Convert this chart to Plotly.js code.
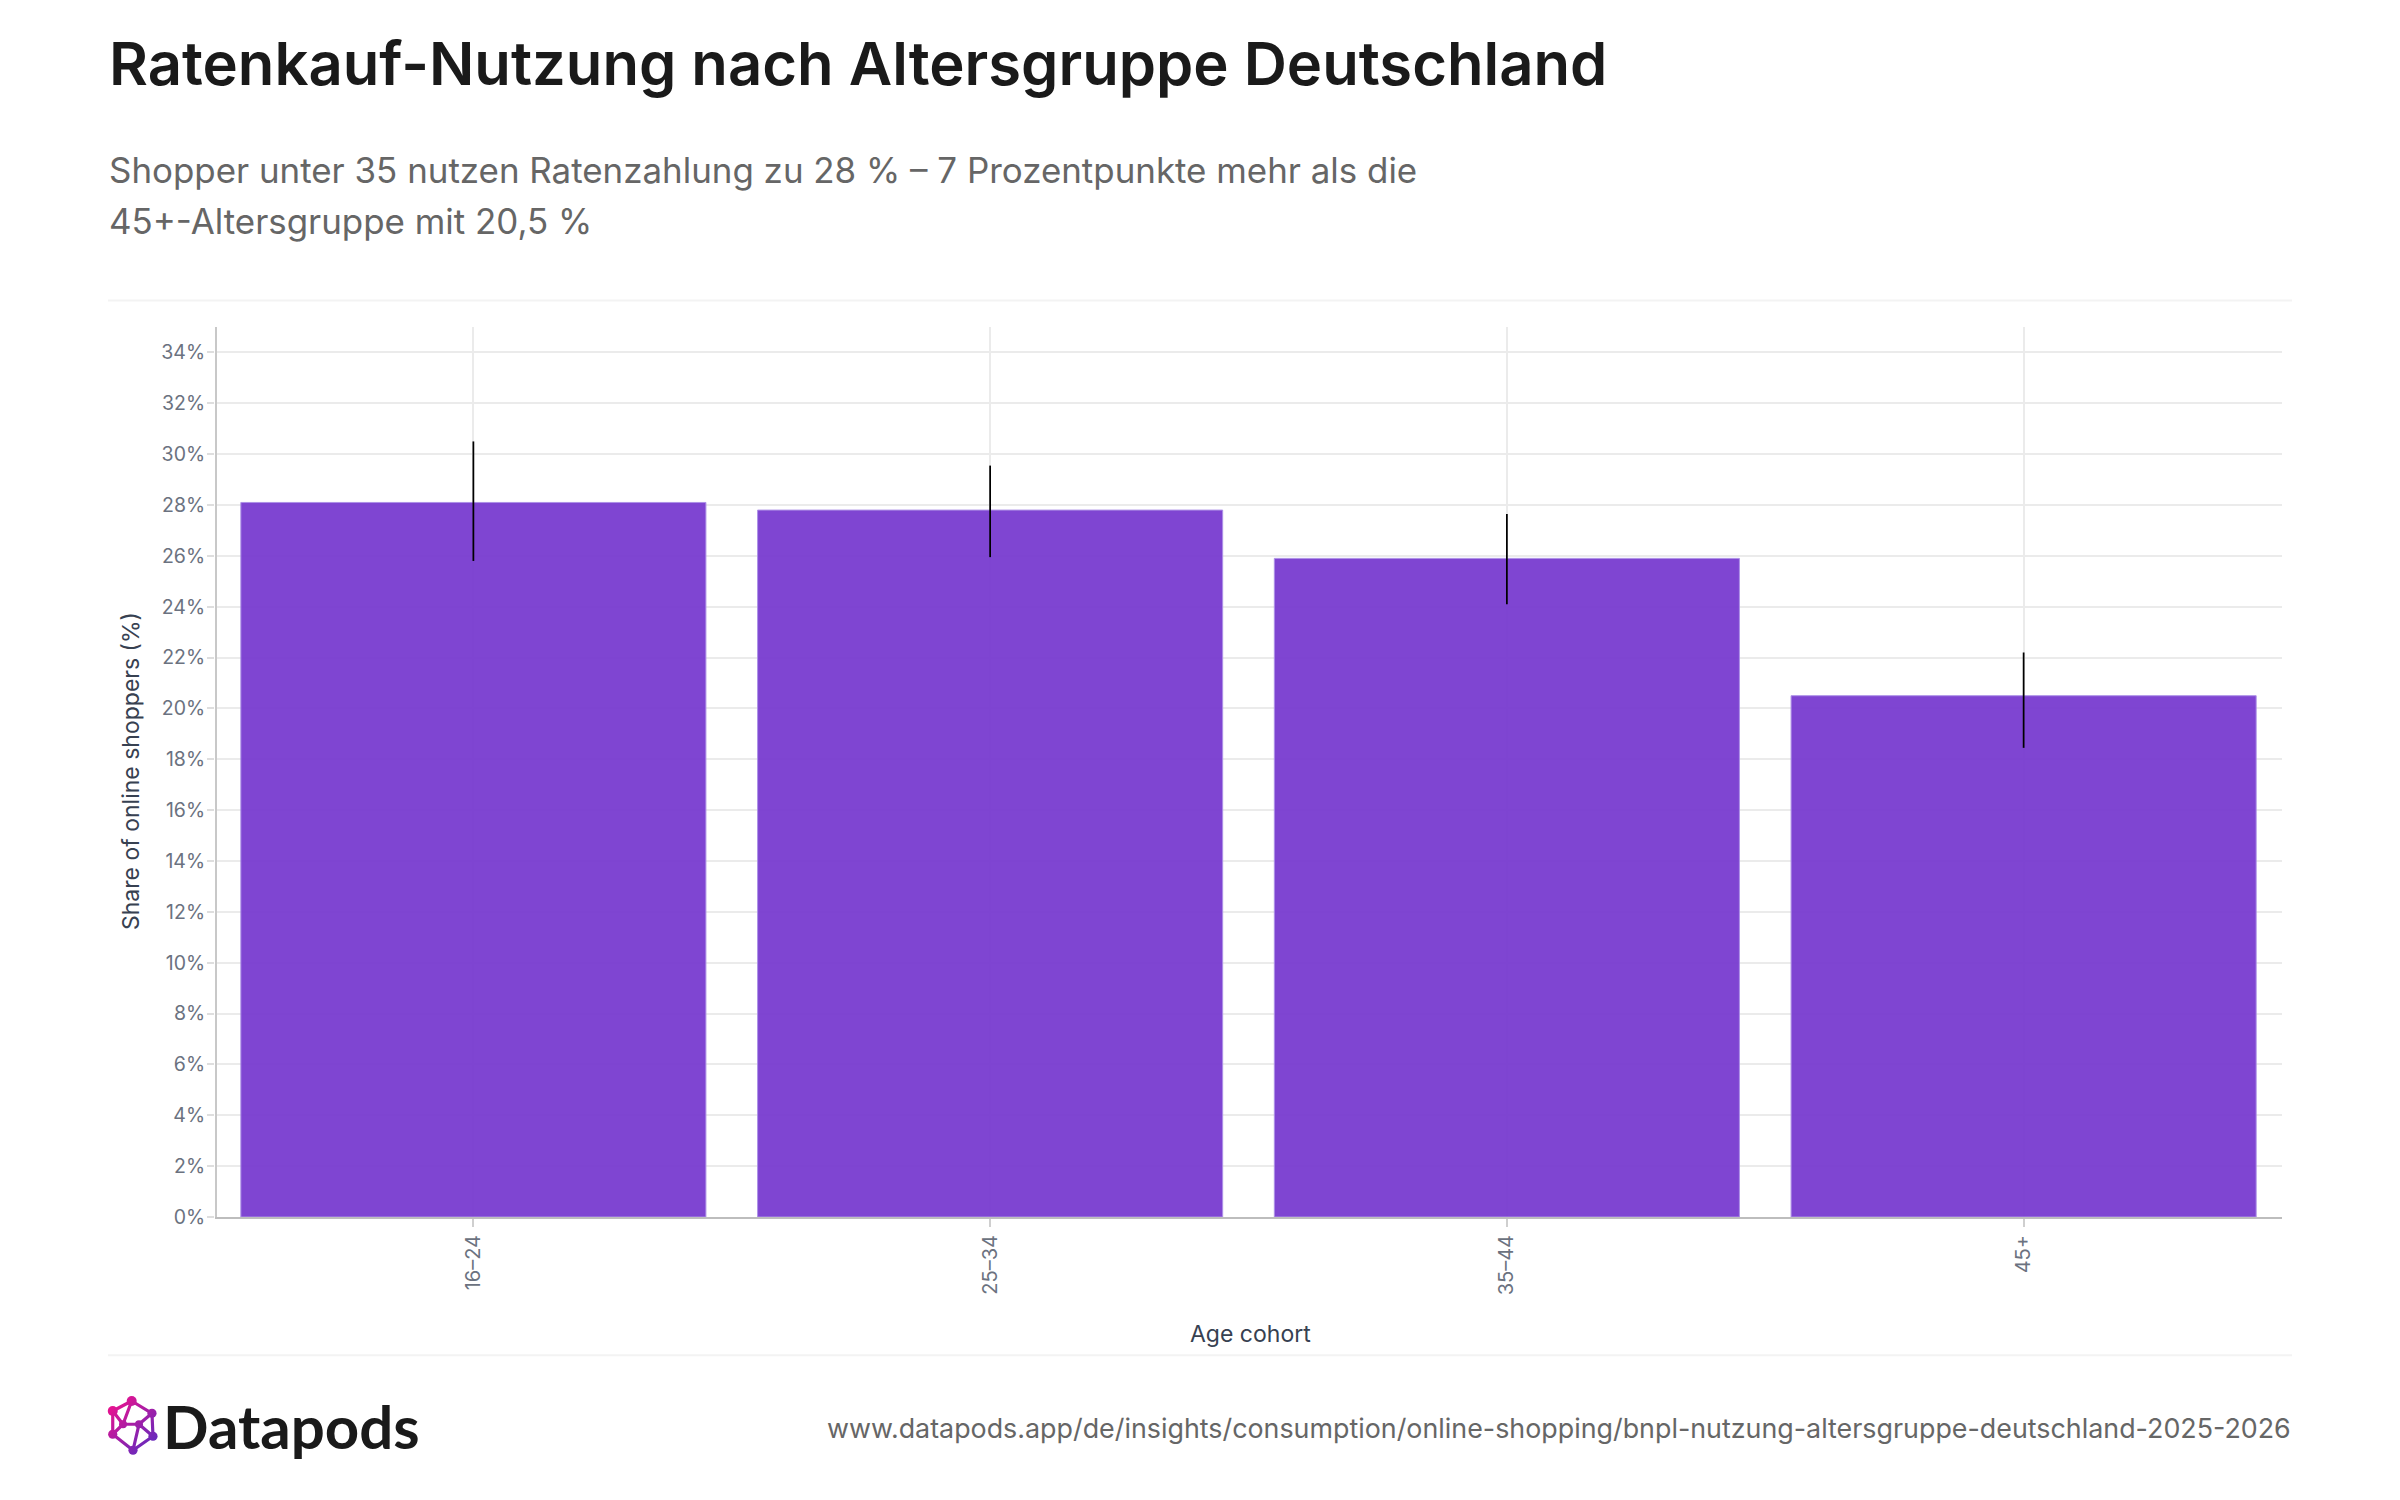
<!DOCTYPE html>
<html><head><meta charset="utf-8">
<script src="https://cdn.plot.ly/plotly-3.0.1.min.js"></script>
<style>html,body{margin:0;padding:0;background:#fff}#c{width:2400px;height:1500px}</style>
</head><body><div id="c"></div>
<script>
const cohorts = ['16–24','25–34','35–44','45+'];
const shares = [28.1,27.8,25.9,20.5];
const ciHigh = [30.5,29.55,27.65,22.2];
const ciLow = [25.8,25.95,24.1,18.45];
const yTicks = [0,2,4,6,8,10,12,14,16,18,20,22,24,26,28,30,32,34];

const W=2400,H=1500,L=215,R=2282,T=326.5,B=1217.5;
const px=x=>(x-L)/(R-L), py=y=>(B-y)/(B-T);
const FONT='Inter, sans-serif';

const logoSvg = "<svg xmlns='http://www.w3.org/2000/svg' width='140' height='140' viewBox='0 0 70 70'><defs><linearGradient id='g' gradientUnits='userSpaceOnUse' x1='12' y1='15' x2='54' y2='58'><stop offset='0' stop-color='#e8128f'/><stop offset='1' stop-color='#5f2bbf'/></linearGradient></defs><g fill='none' stroke='url(#g)' stroke-width='3.2' stroke-linejoin='round'><path d='M31.7 11.7L52 24L53 47L33 61L12.7 45L12.7 21.7Z'/><path d='M31.7 11.7L23 35L12.7 21.7M23 35L12.7 45M23 35L39 35L52 24M39 35L33 61M39 35L53 47'/></g><g fill='url(#g)'><circle cx='31.7' cy='11.7' r='5'/><circle cx='52' cy='24' r='4.6'/><circle cx='53' cy='47' r='4.6'/><circle cx='33' cy='61' r='4.6'/><circle cx='12.7' cy='45' r='4.6'/><circle cx='12.7' cy='21.7' r='5'/><circle cx='23' cy='35' r='4'/><circle cx='39' cy='35' r='4'/></g></svg>";

const trace = {
  type:'bar', x:cohorts, y:shares,
  marker:{color:'rgb(121,60,208)', opacity:0.95, line:{color:'#a98be6', width:1}},
  error_y:{type:'data', symmetric:false,
    array:ciHigh.map((v,i)=>v-shares[i]),
    arrayminus:ciLow.map((v,i)=>shares[i]-v),
    color:'#000000', thickness:1.75, width:0},
  hoverinfo:'skip'
};

const layout = {
  width:W, height:H, paper_bgcolor:'#ffffff', plot_bgcolor:'#ffffff',
  margin:{l:L,r:W-R,t:T,b:H-B,pad:0},
  showlegend:false, bargap:0.1, font:{family:FONT},
  xaxis:{type:'category', tickmode:'array', tickvals:cohorts, ticktext:cohorts, tickangle:-90,
    showgrid:true, gridcolor:'#ebebeb', gridwidth:2, showline:true, linecolor:'#bdbdbd', linewidth:2,
    ticks:'outside', ticklen:8, tickcolor:'#cfcfcf', tickwidth:2,
    tickfont:{family:FONT,size:20,color:'#6b7280'},
    title:{text:''}},
  yaxis:{range:[0,35], tickmode:'array', tickvals:yTicks, ticktext:yTicks.map(v=>v+'%'),
    showgrid:true, gridcolor:'#ebebeb', gridwidth:2, showline:false, zeroline:false,
    ticks:'outside', ticklen:7, tickcolor:'#dedede', tickwidth:2, ticklabelstandoff:-2,
    tickfont:{family:FONT,size:19.5,color:'#6b7280'},
    title:{text:''}},
  shapes:[
    {type:'line',xref:'paper',yref:'paper',x0:px(216),x1:px(216),y0:0,y1:1,line:{color:'#c8c8c8',width:2}},
    {type:'line',xref:'paper',yref:'paper',x0:px(108),x1:px(2292),y0:py(300),y1:py(300),line:{color:'#f3f3f3',width:2}},
    {type:'line',xref:'paper',yref:'paper',x0:px(108),x1:px(2292),y0:py(1356),y1:py(1356),line:{color:'#f3f3f3',width:2}}
  ],
  images:[{source:'data:image/svg+xml;utf8,'+encodeURIComponent(logoSvg),xref:'paper',yref:'paper',
    x:px(100),y:py(1390),sizex:px(170)-px(100),sizey:py(1390)-py(1460),sizing:'contain',xanchor:'left',yanchor:'top',layer:'above'}],
  annotations:[
    {text:'Ratenkauf-Nutzung nach Altersgruppe Deutschland',xref:'paper',yref:'paper',x:px(107),y:py(62.5),xanchor:'left',yanchor:'middle',showarrow:false,font:{family:FONT,size:59.75,weight:600,color:'#1a1a1a'},align:'left'},
    {text:'Shopper unter 35 nutzen Ratenzahlung zu 28 % – 7 Prozentpunkte mehr als die',xref:'paper',yref:'paper',x:px(107),y:py(169.5),xanchor:'left',yanchor:'middle',showarrow:false,font:{family:FONT,size:34.9,color:'#666666'},align:'left'},
    {text:'45+-Altersgruppe mit 20,5 %',xref:'paper',yref:'paper',x:px(107),y:py(220.5),xanchor:'left',yanchor:'middle',showarrow:false,font:{family:FONT,size:34.9,color:'#666666'},align:'left'},
    {text:'Share of online shoppers (%)',xref:'paper',yref:'paper',x:px(131),y:py(771),xanchor:'center',yanchor:'middle',textangle:-90,showarrow:false,font:{family:FONT,size:23,color:'#374151'}},
    {text:'Age cohort',xref:'paper',yref:'paper',x:px(1250),y:py(1334.5),xanchor:'center',yanchor:'middle',showarrow:false,font:{family:FONT,size:23,color:'#374151'}},
    {text:'<b>Datapods</b>',xref:'paper',yref:'paper',x:px(160.5),y:py(1427),xanchor:'left',yanchor:'middle',showarrow:false,font:{family:'Lato, sans-serif',size:60,color:'#1a1a1a'}},
    {text:'www.datapods.app/de/insights/consumption/online-shopping/bnpl-nutzung-altersgruppe-deutschland-2025-2026',xref:'paper',yref:'paper',x:px(2293),y:py(1428.5),xanchor:'right',yanchor:'middle',showarrow:false,font:{family:FONT,size:26.85,color:'#666666'}}
  ]
};
Plotly.newPlot('c',[trace],layout,{displayModeBar:false,staticPlot:true});
</script></body></html>
